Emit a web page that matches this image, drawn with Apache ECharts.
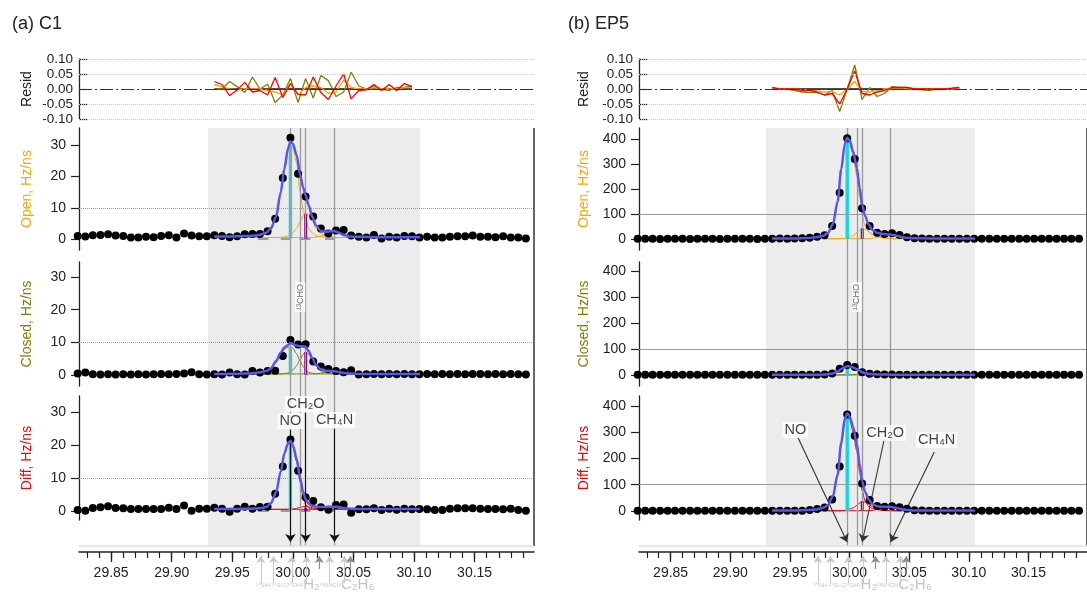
<!DOCTYPE html>
<html>
<head>
<meta charset="utf-8">
<title>C1 / EP5 peak fits</title>
<script src="https://cdn.jsdelivr.net/npm/echarts@6.0.0/dist/echarts.min.js"></script>
<style>
html,body{margin:0;padding:0;background:#fff;}
#chart{width:1087px;height:593px;}
</style>
</head>
<body>
<div id="chart"></div>
<script>
// ================= DATA =================
const mass = [29.8224,29.8287,29.8349,29.8412,29.8475,29.8537,29.8600,29.8663,29.8725,29.8788,
 29.8851,29.8913,29.8976,29.9039,29.9102,29.9164,29.9227,29.9290,29.9352,29.9415,
 29.9478,29.9540,29.9603,29.9666,29.9728,29.9791,29.9854,29.9917,29.9980,30.0043,
 30.0105,30.0168,30.0231,30.0293,30.0356,30.0419,30.0481,30.0544,30.0607,30.0669,
 30.0732,30.0795,30.0857,30.0920,30.0983,30.1045,30.1108,30.1171,30.1234,30.1296,
 30.1359,30.1422,30.1484,30.1547,30.1610,30.1672,30.1735,30.1798,30.1860,30.1923];
const fitMass = [29.935,29.945,29.955,29.965,29.972,29.978,29.982,29.986,29.990,29.993,29.996,29.998,30.000,30.003,30.006,30.0085,30.0105,30.013,30.016,30.019,30.023,30.027,30.031,30.034,30.038,30.042,30.047,30.055,30.070,30.085,30.105];
const residMassC1 = mass.slice(18, 45);
const residMassEP5 = mass.slice(18, 44);
// reference peaks: NO, 13CHO, CH2O, CH4N
const peakMass = [29.998, 30.0061, 30.0106, 30.0344];
const fitWindow = [29.930, 30.105];
const majorTicks = [29.85, 29.90, 29.95, 30.00, 30.05, 30.10, 30.15];
const minorTicks = [29.83,29.84,29.85,29.86,29.87,29.88,29.89,29.90,29.91,29.92,29.93,29.94,29.95,29.96,29.97,29.98,29.99,30.00,
 30.01,30.02,30.03,30.04,30.05,30.06,30.07,30.08,30.09,30.10,30.11,30.12,30.13,30.14,30.15,30.16,30.17,30.18,30.19];
const ticksC1 = [0, 10, 20, 30];
const ticksEP5 = [0, 100, 200, 300, 400];
const ticksResid = [-0.10, -0.05, 0, 0.05, 0.10];
const lightMarkMass = [29.9735, 29.9840, 29.9991, 30.0113, 30.0304, 30.0427];
const darkMarkMass = [30.0218, 30.0475];

// ---- (a) C1 ----
const C1_openDots = [1.0,0.8,1.2,1.3,1.5,1.1,1.0,0.5,0.5,0.7,0.6,1.0,1.2,0.5,1.8,1.1,0.9,0.9,1.2,1.0,
 0.6,0.9,1.5,1.6,1.6,2.5,6.5,19.5,32.4,20.9,13.6,7.2,3.4,1.8,2.7,2.9,1.1,0.7,0.5,1.3,
 0.2,0.7,0.5,1.0,0.9,0.5,0.7,0.5,0.5,0.7,0.9,0.9,1.1,0.7,0.7,0.6,0.9,0.5,0.5,0.2];
const C1_closedDots = [0.4,0.7,0.2,0.1,0.2,0.1,0.2,0.1,0.2,0.1,0.2,0.3,0.2,0.3,0.4,0.8,0.2,0.1,0.2,0.1,
 0.7,0.2,0.1,1.2,0.7,1.2,1.3,5.8,10.7,9.3,9.4,4.1,2.6,1.8,1.2,0.8,1.4,0.1,0.2,0.3,
 0.2,0.3,0.2,0.3,0.2,0.2,0.3,0.2,0.3,0.2,0.3,0.2,0.3,0.3,0.2,0.3,0.2,0.3,0.2,0.1];
const C1_diffDots = [0.3,0.1,0.9,1.1,1.4,0.9,0.8,0.6,0.6,0.6,0.6,0.6,1.0,0.6,1.7,0.1,0.7,0.7,1.0,0.7,
 -0.2,0.7,1.3,0.7,1.2,1.3,5.2,13.5,21.7,12.2,4.2,3.0,1.1,0.4,1.8,2.0,-0.5,0.5,0.5,0.8,
 0.3,0.7,0.4,0.7,0.5,0.6,0.5,0.3,0.3,0.7,0.8,0.8,0.8,0.7,0.6,0.6,0.5,0.7,0.3,0.1];
const C1_openFit = [0.8,0.8,0.9,1.0,1.3,2.0,3.5,7.0,15.0,22.5,29.0,31.2,30.5,27.0,20.5,16.5,14.0,10.8,7.2,4.4,2.6,2.3,2.5,2.6,2.0,1.3,0.8,0.7,0.6,0.6,0.6];
const C1_openNO = [0.5,0.5,0.5,0.6,0.9,1.5,3.0,6.5,14.5,22.0,28.0,30.0,29.2,24.5,15.0,9.3,6.0,3.4,1.9,1.1,0.7,0.6,0.5,0.5,0.5,0.5,0.5,0.5,0.5,0.5,0.5];
const C1_openCH2O = [0.5,0.5,0.5,0.5,0.5,0.5,0.5,0.5,0.55,0.7,1.0,1.4,2.0,3.5,5.5,7.4,8.5,7.8,5.6,3.6,1.8,1.0,0.7,0.6,0.5,0.5,0.5,0.5,0.5,0.5,0.5];
const C1_openCH4N = [0.5,0.5,0.5,0.5,0.5,0.5,0.5,0.5,0.5,0.5,0.5,0.5,0.5,0.5,0.5,0.5,0.5,0.5,0.5,0.6,0.9,1.5,2.2,2.4,2.0,1.2,0.7,0.5,0.5,0.5,0.5];
const C1_closedFit = [0.3,0.3,0.35,0.45,0.7,1.2,2.0,4.2,6.8,8.4,9.2,9.8,9.5,9.0,8.8,8.8,8.6,7.3,5.2,3.1,1.8,1.3,1.2,1.1,0.9,0.6,0.4,0.3,0.3,0.3,0.3];
const C1_closedNO = [0.3,0.3,0.3,0.35,0.5,0.9,1.6,3.8,6.4,7.9,8.5,8.6,8.2,6.5,4.3,2.6,1.6,0.8,0.5,0.35,0.3,0.3,0.3,0.3,0.3,0.3,0.3,0.3,0.3,0.3,0.3];
const C1_closedCH2O = [0.3,0.3,0.3,0.3,0.3,0.3,0.3,0.3,0.3,0.4,0.6,0.9,1.5,2.8,4.7,6.3,7.0,6.4,4.6,2.8,1.2,0.6,0.4,0.35,0.3,0.3,0.3,0.3,0.3,0.3,0.3];
const C1_closedCH4N = [0.3,0.3,0.3,0.3,0.3,0.3,0.3,0.3,0.3,0.3,0.3,0.3,0.3,0.3,0.3,0.3,0.3,0.3,0.3,0.3,0.5,0.8,1.0,1.05,0.85,0.55,0.35,0.3,0.3,0.3,0.3];
const C1_diffFit = [0.6,0.6,0.6,0.7,0.8,1.2,2.4,5.5,12.0,17.5,20.5,21.3,20.0,16.0,10.0,5.8,3.6,2.2,1.6,1.3,1.2,1.2,1.3,1.3,1.2,0.9,0.7,0.6,0.6,0.6,0.6];
const C1_diffNO = [0.5,0.5,0.5,0.6,0.7,1.1,2.2,5.3,11.8,17.2,20.0,20.7,19.3,15.0,8.8,4.3,2.1,1.0,0.6,0.5,0.5,0.5,0.5,0.5,0.5,0.5,0.5,0.5,0.5,0.5,0.5];
const C1_diffCH2O = [0.5,0.5,0.5,0.5,0.5,0.5,0.5,0.5,0.5,0.5,0.5,0.55,0.6,0.8,1.1,1.3,1.4,1.3,1.0,0.7,0.55,0.5,0.5,0.5,0.5,0.5,0.5,0.5,0.5,0.5,0.5];
const C1_diffCH4N = [0.5,0.5,0.5,0.5,0.5,0.5,0.5,0.5,0.5,0.5,0.5,0.5,0.5,0.5,0.5,0.5,0.5,0.5,0.5,0.5,0.6,0.8,1.05,1.1,0.95,0.7,0.55,0.5,0.5,0.5,0.5];
const C1_openBars = [30.0, 8.0];
const C1_closedBars = [8.3, 7.0];
const C1_diffBars = [20.7, 0.9];
const C1_residOpen = [0.015,0.008,0,-0.002,0,0,0,-0.005,-0.01,-0.02,0.02,-0.02,0.005,0.01,0.005,-0.015,-0.01,0.03,0.005,0,0,0.005,0,0,0,0.005,0.005];
const C1_residClosed = [0,0,0.025,0.008,-0.012,0.04,0,0.016,-0.045,-0.02,0.035,-0.045,0.035,-0.03,0.045,0.028,-0.025,-0.01,0.056,0.01,0,0.01,0,-0.005,0.005,0.005,0.01];
const C1_residDiff = [0.025,0.015,-0.022,-0.003,0.022,-0.01,-0.005,-0.02,0.038,-0.028,0.018,-0.018,-0.02,0.04,-0.012,-0.035,0.01,0.05,-0.033,-0.005,-0.003,0.015,-0.005,0.015,-0.005,0.018,0.008];
const C1_errBars = [[29.971, 29.980], [29.990, 29.9975], [30.0055, 30.0145], [30.0265, 30.034]];

// ---- (b) EP5 ----
const EP5_openDots = [1,1,1,0,1,1,1,0,1,1,1,0,1,1,1,1,0,1,1,2,
 1,2,3,5,9,15,52,185,403,320,123,52,25,20,23,16,7,3,2,1,
 1,1,1,1,1,1,1,1,1,1,1,1,1,1,1,1,1,1,1,1];
const EP5_closedDots = [0.5,0.5,0.5,0.5,0.5,0.5,0.5,0.5,0.5,0.5,0.5,0.5,0.5,0.5,0.5,0.5,0.5,0.5,0.5,0.5,
 0.5,0.5,0.5,1,1,2,6,24,38,31,11,5,3,2,2,1,1,0.5,0.5,0.5,
 0.5,0.5,0.5,0.5,0.5,0.5,0.5,0.5,0.5,0.5,0.5,0.5,0.5,0.5,0.5,0.5,0.5,0.5,0.5,0.5];
const EP5_diffDots = [1,1,1,1,1,1,1,1,1,1,1,1,1,1,1,1,1,1,1,1,
 1,1,1,4,8,13,44,169,368,287,105,42,19,16,18,14,9,3,2,1,
 1,1,1,1,1,1,1,1,1,1,1,1,1,1,1,1,1,1,1,1];
const EP5_openFit = [2,2,2.5,4,7,13,25,60,150,280,380,405,395,350,285,205,135,92,58,36,25,21,19,18,15,10,5,3,2,2,2];
const EP5_openNO = [1.5,1.5,2,3.5,6,12,23,57,145,273,372,395,383,332,255,170,95,55,30,17,9,5,3,2,1.5,1.5,1.5,1.5,1.5,1.5,1.5];
const EP5_openCH2O = [1.5,1.5,1.5,1.5,1.5,1.5,1.5,1.5,1.5,2,3.5,5,8,14,25,36,42,39,30,20,10,5,3,2,1.5,1.5,1.5,1.5,1.5,1.5,1.5];
const EP5_openCH4N = [1.5,1.5,1.5,1.5,1.5,1.5,1.5,1.5,1.5,1.5,1.5,1.5,1.5,1.5,1.5,1.5,1.5,1.5,1.5,3,7,12,16,17,15,10,5,2.5,1.5,1.5,1.5];
const EP5_closedFit = [0.5,0.5,0.5,0.7,1,1.5,3,5.5,13,23,30,34,33,29,23,16,11,7,4.5,3,2,1.6,1.5,1.4,1.1,0.8,0.6,0.5,0.5,0.5,0.5];
const EP5_closedNO = [0.3,0.3,0.3,0.5,0.8,1.3,2.7,5,12.3,22,29,32,30.5,26,19.5,12,6.5,3.2,1.5,0.8,0.5,0.4,0.3,0.3,0.3,0.3,0.3,0.3,0.3,0.3,0.3];
const EP5_closedCH2O = [0.3,0.3,0.3,0.3,0.3,0.3,0.3,0.3,0.3,0.3,0.3,0.3,0.8,1.5,2.8,4.2,5,4.6,3.3,2,0.9,0.5,0.3,0.3,0.3,0.3,0.3,0.3,0.3,0.3,0.3];
const EP5_closedCH4N = [0.3,0.3,0.3,0.3,0.3,0.3,0.3,0.3,0.3,0.3,0.3,0.3,0.3,0.3,0.3,0.3,0.3,0.3,0.3,0.3,0.3,0.7,1.1,1.3,1.1,0.7,0.3,0.3,0.3,0.3,0.3];
const EP5_diffFit = [1.5,1.5,2,3.5,6,12,23,56,140,260,352,372,360,320,255,178,114,72,44,27,18,16,16,16,13,9,4.5,2,1.5,1.5,1.5];
const EP5_diffNO = [1,1,1.5,3,5.5,11,21,53,134,250,342,360,348,300,230,148,78,38,18,9,5,2.5,1.5,1,1,1,1,1,1,1,1];
const EP5_diffCH2O = [1,1,1,1,1,1,1,1,1,1.5,2.5,4,7,12,21,31,37,34,26,17,8,4,2,1.5,1,1,1,1,1,1,1];
const EP5_diffCH4N = [1,1,1,1,1,1,1,1,1,1,1,1,1,1,1,1,1,1,1,2,6,11,14,15,13,9,4.5,2,1,1,1];
const EP5_openBars = [395, 42];
const EP5_closedBars = [32, 5];
const EP5_diffBars = [360, 37];
const EP5_residOpen = [0.003,0,0,0,-0.003,-0.003,-0.006,-0.01,-0.008,-0.02,0,0.025,-0.008,-0.01,-0.005,0,0.003,0.003,0.002,0,0,0,0,0,0,0.003];
const EP5_residClosed = [0,0,0,-0.005,-0.01,-0.012,-0.012,-0.02,-0.005,-0.075,0,0.08,-0.035,0.005,-0.025,-0.015,0.008,0.005,0.005,0,-0.003,-0.005,0,0,0.003,0.005];
const EP5_residDiff = [0.005,0,0,0,-0.005,-0.005,-0.01,-0.02,-0.015,-0.05,0,0.06,-0.015,-0.02,-0.01,-0.005,0.005,0.005,0.005,0,0,0,0,0,0.002,0.005];

// ================= LAYOUT / STYLE =================
const FONT = '"Liberation Sans", Arial, Helvetica, sans-serif';
const X0 = 29.8235, X1 = 30.199, GW = 455;
const COL = {open:'#ffa500', closed:'#808000', diff:'#ff0000', fit:'#5757ee', cyan:'#00e8f2', purple:'#800080', ink:'#222'};
const PANEL_TOP = [128, 262, 396], PANEL_H = [122, 124, 124];
const DOT_REF = {type:'dotted', color:'#9a9a9a', width:1};
const SOLID_REF = {type:'solid', color:'#9a9a9a', width:1.2};

const SIDES = [
 { left:79, nameGap:45, title:'(a) C1', titleX:12,
   resid:{mass:residMassC1, open:C1_residOpen, closed:C1_residClosed, diff:C1_residDiff},
   panels:[
    {label:'Open, Hz/ns', color:COL.open, min:-3.5, max:35.5, ticks:ticksC1, ref:10, refStyle:DOT_REF,
     dots:C1_openDots, fit:C1_openFit, comps:[C1_openNO, C1_openCH2O, C1_openCH4N], bars:C1_openBars, err:C1_errBars},
    {label:'Closed, Hz/ns', color:COL.closed, min:-3.4, max:34.6, ticks:ticksC1, ref:10, refStyle:DOT_REF,
     dots:C1_closedDots, fit:C1_closedFit, comps:[C1_closedNO, C1_closedCH2O, C1_closedCH4N], bars:C1_closedBars, err:null},
    {label:'Diff, Hz/ns', color:COL.diff, min:-2.73, max:34.85, ticks:ticksC1, ref:10, refStyle:DOT_REF,
     dots:C1_diffDots, fit:C1_diffFit, comps:[C1_diffNO, C1_diffCH2O, C1_diffCH4N], bars:C1_diffBars, err:C1_errBars}
   ],
   labels:[{m:29.998, v:131, t:'NO'}, {m:30.0106, v:148, t:'CH₂O'}, {m:30.0344, v:132, t:'CH₄N'}],
   arrows:[[[29.998,122],[29.998,10]], [[30.0106,139],[30.0106,10]], [[30.0344,123],[30.0344,10]]],
   arrowColor:'#111'
 },
 { left:639, nameGap:48, title:'(b) EP5', titleX:568,
   resid:{mass:residMassEP5, open:EP5_residOpen, closed:EP5_residClosed, diff:EP5_residDiff},
   panels:[
    {label:'Open, Hz/ns', color:COL.open, min:-44, max:444, ticks:ticksEP5, ref:100, refStyle:SOLID_REF,
     dots:EP5_openDots, fit:EP5_openFit, comps:[EP5_openNO, EP5_openCH2O, EP5_openCH4N], bars:EP5_openBars, err:null},
    {label:'Closed, Hz/ns', color:COL.closed, min:-42.3, max:434.6, ticks:ticksEP5, ref:100, refStyle:SOLID_REF,
     dots:EP5_closedDots, fit:EP5_closedFit, comps:[EP5_closedNO, EP5_closedCH2O, EP5_closedCH4N], bars:EP5_closedBars, err:null},
    {label:'Diff, Hz/ns', color:COL.diff, min:-34.3, max:438, ticks:ticksEP5, ref:100, refStyle:SOLID_REF,
     dots:EP5_diffDots, fit:EP5_diffFit, comps:[EP5_diffNO, EP5_diffCH2O, EP5_diffCH4N], bars:EP5_diffBars, err:null}
   ],
   labels:[{m:29.9546, v:122, t:'NO'}, {m:30.0298, v:119, t:'CH₂O'}, {m:30.0730, v:112, t:'CH₄N'}],
   arrows:[[[29.9565,115],[29.998,10]], [[30.0289,112],[30.0106,10]], [[30.0710,100],[30.0344,10]]],
   arrowColor:'#333'
 }
];

// ================= BUILD OPTION =================
const grids = [], xAxes = [], yAxes = [], series = [];
function coord(grid, xa, ya) {
  grids.push(grid);
  const gi = grids.length - 1;
  xa.gridIndex = gi; ya.gridIndex = gi;
  xAxes.push(xa); yAxes.push(ya);
  return {x: xAxes.length - 1, y: yAxes.length - 1};
}
const hiddenX = () => ({type:'value', min:X0, max:X1, show:false});
function yAxisCfg(min, max, ticks, name, nameColor, nameGap, inside, fmt, fs) {
  return {type:'value', min, max, name, nameLocation:'middle', nameGap, nameRotate:90,
    nameTextStyle:{color:nameColor, fontSize:14, fontFamily:FONT},
    axisLine:{show:true, onZero:false, lineStyle:{color:COL.ink, width:1.3}},
    axisTick:{show:true, inside, length:8, customValues:ticks, lineStyle:{color:COL.ink, width:1.2}},
    axisLabel:{show:true, customValues:ticks, formatter:fmt, color:COL.ink, fontSize:fs, fontFamily:FONT, margin: inside ? 6 : 13},
    splitLine:{show:false}};
}
const zip = (xs, ys) => xs.map((x, i) => [x, ys[i]]);
const solid = (color, width) => ({type:'solid', color, width});

SIDES.forEach(S => {
  // ---------- residual panel ----------
  const r = coord({left:S.left, top:59, width:GW, height:60}, hiddenX(),
    yAxisCfg(-0.1, 0.1, ticksResid, 'Resid', COL.ink, S.nameGap, true, v => v.toFixed(2), 13.5));
  series.push({type:'line', xAxisIndex:r.x, yAxisIndex:r.y, silent:true, symbol:'none', z:2,
    data: zip([S.resid.mass[0], S.resid.mass[S.resid.mass.length-1]], [0, 0]),
    lineStyle:{color:'#111', width:1.3},
    markLine:{silent:true, symbol:'none', label:{show:false}, animation:false,
      data:[
        {yAxis:0.1, lineStyle:{type:'dotted', color:'#c4c4c4', width:1}},
        {yAxis:0.05, lineStyle:{type:'dotted', color:'#c4c4c4', width:1}},
        {yAxis:-0.05, lineStyle:{type:'dotted', color:'#c4c4c4', width:1}},
        {yAxis:-0.1, lineStyle:{type:'dotted', color:'#c4c4c4', width:1}},
        {yAxis:0, lineStyle:{type:[13,3,2,3], color:'#333', width:1.2}}
      ]}});
  [['closed', COL.closed], ['open', COL.open], ['diff', COL.diff]].forEach(([k, c]) => {
    series.push({type:'line', xAxisIndex:r.x, yAxisIndex:r.y, silent:true, symbol:'none', z:3,
      data: zip(S.resid.mass, S.resid[k]), lineStyle:{color:c, width:1.3}});
  });

  // ---------- Open / Closed / Diff panels ----------
  S.panels.forEach((P, pi) => {
    const c = coord({left:S.left, top:PANEL_TOP[pi], width:GW, height:PANEL_H[pi]}, hiddenX(),
      yAxisCfg(P.min, P.max, P.ticks, P.label, P.color, S.nameGap, false, v => String(v), 14));
    P.comps.forEach(arr => series.push({type:'line', xAxisIndex:c.x, yAxisIndex:c.y, silent:true, symbol:'none', z:3,
      smooth:0.3, smoothMonotone:'x', data: zip(fitMass, arr), lineStyle:{color:P.color, width:1}}));
    if (P.err) P.err.forEach(seg => series.push({type:'line', xAxisIndex:c.x, yAxisIndex:c.y, silent:true, symbol:'none', z:3,
      data: zip(seg, [0, 0]), lineStyle:{color:'#9a9a9a', width:2}}));
    series.push({type:'line', xAxisIndex:c.x, yAxisIndex:c.y, silent:true, symbol:'none', z:4,
      data: zip([peakMass[0], peakMass[0]], [0, P.bars[0]]), lineStyle:{color:COL.cyan, width:3.5}});
    series.push({type:'line', xAxisIndex:c.x, yAxisIndex:c.y, silent:true, symbol:'none', z:4,
      data: zip([peakMass[2], peakMass[2]], [0, P.bars[1]]), lineStyle:{color:COL.purple, width:3}});
    series.push({type:'scatter', xAxisIndex:c.x, yAxisIndex:c.y, silent:true, clip:false, z:5,
      symbolSize:8, itemStyle:{color:'#000', opacity:1}, data: zip(mass, P.dots),
      markLine:{silent:true, symbol:'none', label:{show:false}, animation:false, lineStyle:P.refStyle, data:[{yAxis:P.ref}]}});
    series.push({type:'line', xAxisIndex:c.x, yAxisIndex:c.y, silent:true, symbol:'none', z:6,
      smooth:0.3, smoothMonotone:'x', data: zip(fitMass, P.fit), lineStyle:{color:COL.fit, width:2.5}});
  });

  // ---------- overlay grid: y = 0 at the mass axis, 424 at the top ----------
  const o = coord({left:S.left, top:128, width:GW, height:424},
    {type:'value', min:X0, max:X1,
     axisLine:{show:true, lineStyle:{color:COL.ink, width:1.5}},
     axisTick:{show:true, length:10, customValues:majorTicks, lineStyle:{color:COL.ink, width:1.3}},
     axisLabel:{show:true, customValues:majorTicks, formatter:v => v.toFixed(2), color:COL.ink, fontSize:14, fontFamily:FONT, margin:14},
     splitLine:{show:false}},
    {type:'value', min:0, max:424, show:false});
  series.push({type:'line', xAxisIndex:o.x, yAxisIndex:o.y, silent:true, z:1, data:[],
    markArea:{silent:true, itemStyle:{color:'#ececec'}, data:[[{coord:[fitWindow[0], 6]}, {coord:[fitWindow[1], 424]}]]},
    markLine:{silent:true, symbol:'none', label:{show:false}, animation:false,
      data: peakMass.map(m => [{coord:[m, 6], lineStyle:solid('#9a9a9a', 1.3)}, {coord:[m, 424]}])
        .concat([[{coord:[X1, 6], lineStyle:solid('#333', 1.5)}, {coord:[X1, 424]}],
                 [{coord:[X0, 6], lineStyle:solid('#dedede', 1.5)}, {coord:[X1, 6]}]])}});
  series.push({type:'line', xAxisIndex:o.x, yAxisIndex:o.y, silent:true, z:7, data:[],
    markLine:{silent:true, symbol:['none', 'arrow'], symbolSize:8, label:{show:false}, animation:false,
      lineStyle:solid(S.arrowColor, 1.1),
      data: S.arrows.map(a => [{coord:a[0]}, {coord:a[1]}])}});
  series.push({type:'scatter', xAxisIndex:o.x, yAxisIndex:o.y, silent:true, z:10, symbolSize:0,
    data: S.labels.map(L => ({value:[L.m, L.v], label:{formatter:L.t}})).concat([
      {value:[peakMass[1], 255], label:{formatter:'¹³CHO', rotate:90, fontSize:9, color:'#444', padding:[1,2,0,2]}}]),
    label:{show:true, position:'inside', color:'#111', fontSize:14.5, fontFamily:FONT, backgroundColor:'#fff', padding:[1,2,0,2]}});

  // ---------- minor ticks ----------
  coord({left:S.left, top:500, width:GW, height:52},
    {type:'value', min:X0, max:X1, axisLine:{show:false},
     axisTick:{show:true, length:6, customValues:minorTicks, lineStyle:{color:COL.ink, width:1.2}},
     axisLabel:{show:false}, splitLine:{show:false}},
    {type:'value', min:0, max:1, show:false});

  // ---------- markers below the axis ----------
  const b = coord({left:S.left, top:552, width:GW, height:41}, hiddenX(), {type:'value', min:0, max:41, show:false});
  series.push({type:'line', xAxisIndex:b.x, yAxisIndex:b.y, silent:true, z:2, data:[],
    markLine:{silent:true, symbol:['none', 'arrow'], symbolSize:7, label:{show:false}, animation:false,
      data: lightMarkMass.map(mm => [{coord:[mm, 10], lineStyle:solid('#c8c8c8', 1)}, {coord:[mm, 37]}])
        .concat(darkMarkMass.map(mm => [{coord:[mm, 24], lineStyle:solid('#8c8c8c', 1.2)}, {coord:[mm, 37]}]))}});
  series.push({type:'scatter', xAxisIndex:b.x, yAxisIndex:b.y, silent:true, z:3, symbolSize:0,
    data:[{value:[29.9700, 8]}],
    label:{show:true, position:[0, 0], align:'left', verticalAlign:'middle',
      formatter:'{s|³⁰SiH ²⁹Si C¹⁸OH¹}{b|H₂}{s|¹³N¹³CH}{b|C₂H₆}',
      rich:{s:{fontSize:6, color:'#b4b4b4', fontFamily:FONT}, b:{fontSize:15, color:'#b4b4b4', fontFamily:FONT}}}});
});

const chart = echarts.init(document.getElementById('chart'));
chart.setOption({
  animation:false,
  backgroundColor:'#ffffff',
  textStyle:{fontFamily:FONT},
  grid: grids, xAxis: xAxes, yAxis: yAxes, series,
  graphic: SIDES.map(S => ({type:'text', left:S.titleX, top:15,
    style:{text:S.title, fontSize:18, fontFamily:FONT, fill:COL.ink}}))
});
</script>
</body>
</html>
